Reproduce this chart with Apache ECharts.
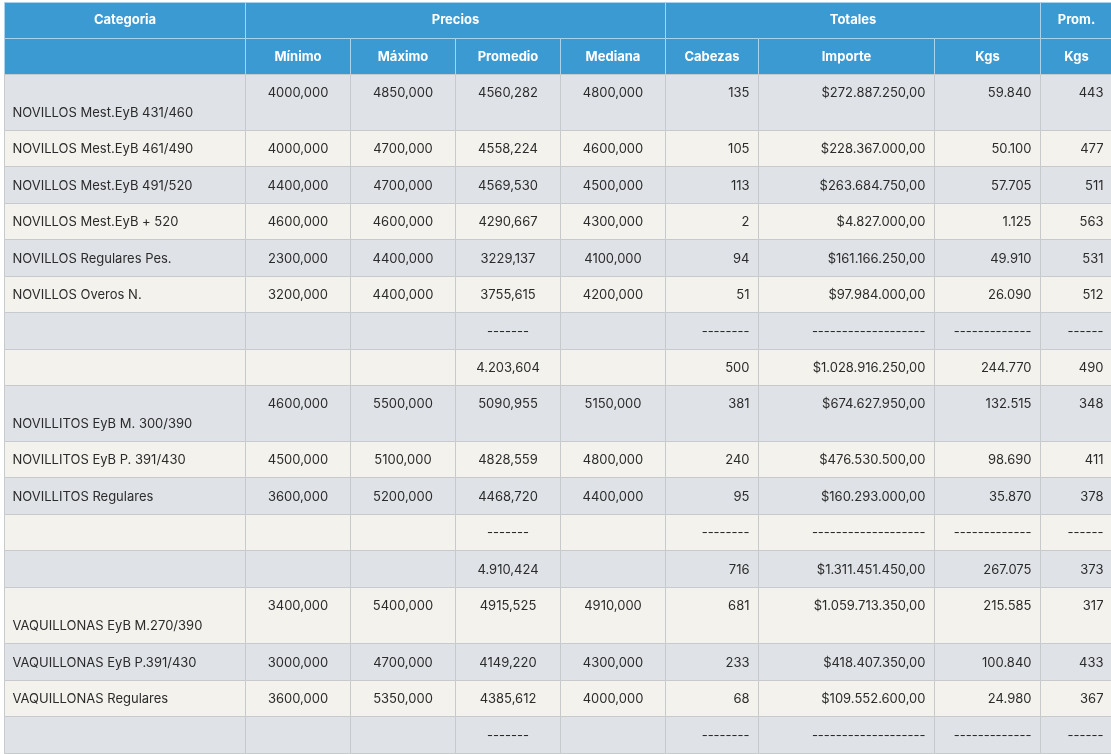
<!DOCTYPE html>
<html>
<head>
<meta charset="utf-8">
<script src="https://cdn.jsdelivr.net/npm/echarts@6/dist/echarts.min.js"></script>
<style>
  html, body { margin: 0; padding: 0; background: #fff; }
  #tabla { width: 1111px; height: 754px; }
</style>
</head>
<body>
<div id="tabla"></div>
<script>
var categorias = ['NOVILLOS Mest.EyB 431/460', 'NOVILLOS Mest.EyB 461/490', 'NOVILLOS Mest.EyB 491/520', 'NOVILLOS Mest.EyB + 520', 'NOVILLOS Regulares Pes.', 'NOVILLOS Overos N.', '', '', 'NOVILLITOS EyB M. 300/390', 'NOVILLITOS EyB P. 391/430', 'NOVILLITOS Regulares', '', '', 'VAQUILLONAS EyB M.270/390', 'VAQUILLONAS EyB P.391/430', 'VAQUILLONAS Regulares', '']
var minimo = ['4000,000', '4000,000', '4400,000', '4600,000', '2300,000', '3200,000', '', '', '4600,000', '4500,000', '3600,000', '', '', '3400,000', '3000,000', '3600,000', '']
var maximo = ['4850,000', '4700,000', '4700,000', '4600,000', '4400,000', '4400,000', '', '', '5500,000', '5100,000', '5200,000', '', '', '5400,000', '4700,000', '5350,000', '']
var promedio = ['4560,282', '4558,224', '4569,530', '4290,667', '3229,137', '3755,615', '-------', '4.203,604', '5090,955', '4828,559', '4468,720', '-------', '4.910,424', '4915,525', '4149,220', '4385,612', '-------']
var mediana = ['4800,000', '4600,000', '4500,000', '4300,000', '4100,000', '4200,000', '', '', '5150,000', '4800,000', '4400,000', '', '', '4910,000', '4300,000', '4000,000', '']
var cabezas = ['135', '105', '113', '2', '94', '51', '--------', '500', '381', '240', '95', '--------', '716', '681', '233', '68', '--------']
var importe = ['$272.887.250,00', '$228.367.000,00', '$263.684.750,00', '$4.827.000,00', '$161.166.250,00', '$97.984.000,00', '-------------------', '$1.028.916.250,00', '$674.627.950,00', '$476.530.500,00', '$160.293.000,00', '-------------------', '$1.311.451.450,00', '$1.059.713.350,00', '$418.407.350,00', '$109.552.600,00', '-------------------']
var kgs = ['59.840', '50.100', '57.705', '1.125', '49.910', '26.090', '-------------', '244.770', '132.515', '98.690', '35.870', '-------------', '267.075', '215.585', '100.840', '24.980', '-------------']
var promKgs = ['443', '477', '511', '563', '531', '512', '------', '490', '348', '411', '378', '------', '373', '317', '433', '367', '------']

var grupos = ['Categoria', 'Precios', 'Totales', 'Prom.']
var grupoSpan = [1, 4, 3, 1]
var columnas = ['', 'Mínimo', 'Máximo', 'Promedio', 'Mediana', 'Cabezas', 'Importe', 'Kgs', 'Kgs']

// layout
var anchos = [241, 105, 105, 105, 105, 93, 176, 106, 72]
var altoHeader = 36
var filasAltas = [0, 8, 13]
var alineacion = ['left', 'center', 'center', 'center', 'center', 'right', 'right', 'right', 'right']
var x0 = 4.5, y0 = 2.5
var FONT = '"Inter", "Roboto", sans-serif'

var bordes = [x0]
anchos.forEach(function (w) { bordes.push(bordes[bordes.length - 1] + w) })

var columnasDatos = [categorias, minimo, maximo, promedio, mediana, cabezas, importe, kgs, promKgs]
var celdas = []

// header fila 1
var c = 0
grupos.forEach(function (g, i) {
  celdas.push({ x0: bordes[c], x1: bordes[c + grupoSpan[i]], y0: y0, y1: y0 + altoHeader, text: g, header: true, align: 'center' })
  c += grupoSpan[i]
})
// header fila 2
columnas.forEach(function (t, i) {
  celdas.push({ x0: bordes[i], x1: bordes[i + 1], y0: y0 + altoHeader, y1: y0 + altoHeader * 2, text: t, header: true, align: 'center',
    ty: y0 + altoHeader * 1.5 + 1 })
})

var y = y0 + altoHeader * 2
for (var r = 0; r < categorias.length; r++) {
  var alta = filasAltas.indexOf(r) >= 0
  var h = alta ? 56 : (r % 2 === 0 ? 37 : 36)
  for (var k = 0; k < columnasDatos.length; k++) {
    var ty = alta ? (k === 0 ? y + 39 : y + 19) : y + h / 2 + 1
    celdas.push({ x0: bordes[k], x1: bordes[k + 1], y0: y, y1: y + h, text: columnasDatos[k][r], ty: ty,
      align: alineacion[k], fill: r % 2 === 0 ? '#dfe3e7' : '#f3f2ed' })
  }
  y += h
}

var chart = echarts.init(document.getElementById('tabla'))
var option = {
  animation: false,
  grid: { left: 0, right: 0, top: 0, bottom: 0 },
  xAxis: { type: 'value', min: 0, max: 1111, show: false },
  yAxis: { type: 'value', min: 0, max: 754, inverse: true, show: false },
  series: [{
    type: 'custom',
    data: celdas.map(function (d) { return [d.x0, d.y0, d.x1, d.y1] }),
    renderItem: function (params, api) {
      var d = celdas[params.dataIndex]
      var p0 = api.coord([api.value(0), api.value(1)])
      var p1 = api.coord([api.value(2), api.value(3)])
      var tx = d.align === 'left' ? p0[0] + 8 : d.align === 'right' ? p1[0] - 9 : (p0[0] + p1[0]) / 2
      var ty = d.ty !== undefined ? api.coord([0, d.ty])[1] : (p0[1] + p1[1]) / 2
      return {
        type: 'group',
        children: [{
          type: 'rect',
          shape: { x: p0[0], y: p0[1], width: p1[0] - p0[0], height: p1[1] - p0[1] },
          style: { fill: d.header ? '#3b9ad2' : d.fill, stroke: d.header ? '#a9d2ec' : '#c6cacd', lineWidth: 1 }
        }, {
          type: 'text',
          style: {
            text: d.text, x: tx, y: ty, align: d.align, verticalAlign: 'middle',
            fill: d.header ? '#ffffff' : '#2b2b2b',
            font: (d.header ? 'bold ' : '') + '13px ' + FONT
          }
        }]
      }
    }
  }]
}
chart.setOption(option)
</script>
</body>
</html>
